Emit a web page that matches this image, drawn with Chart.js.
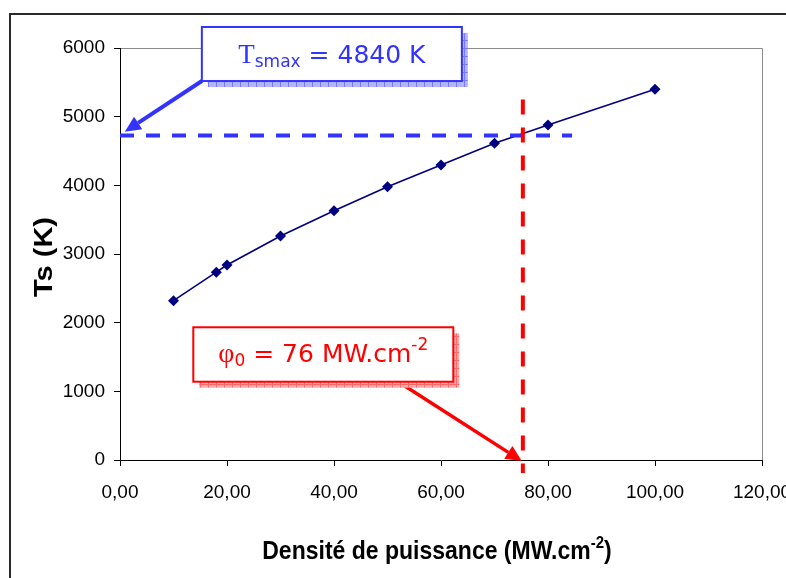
<!DOCTYPE html>
<html>
<head>
<meta charset="utf-8">
<script src="https://cdn.jsdelivr.net/npm/chart.js@4.4.0/dist/chart.umd.min.js"></script>
<style>
  html, body { margin: 0; padding: 0; background: #fff; }
  canvas { display: block; }
</style>
</head>
<body>
<canvas id="tsChart" width="786" height="578"></canvas>
<script>
// Données
const densite = [10, 18, 20, 30, 40, 50, 60, 70, 80, 100];
const temperature = [2320, 2735, 2840, 3262, 3630, 3980, 4295, 4612, 4879, 5398];
const xTickLabels = ['0,00', '20,00', '40,00', '60,00', '80,00', '100,00', '120,00'];
const yTickLabels = ['0', '1000', '2000', '3000', '4000', '5000', '6000'];

// Lignes de repère (Tsmax et phi0)
const tsmaxY = 4726;
const tsmaxXEnd = 84.5;
const phiX = 75.3;
const phiYTop = 5250;
const phiYBottom = -190;

// Motif hachuré pour les ombres des étiquettes
function shadowPattern(ctx, base, line) {
    const c = document.createElement('canvas');
    c.width = 8; c.height = 8;
    const g = c.getContext('2d');
    g.fillStyle = base; g.fillRect(0, 0, 8, 8);
    g.fillStyle = line; g.fillRect(0, 0, 8, 1); g.fillRect(0, 0, 1, 8);
    return ctx.createPattern(c, 'repeat');
}

function drawBox(ctx, x, y, w, h, color, base, line) {
    ctx.fillStyle = shadowPattern(ctx, base, line);
    ctx.fillRect(x + 6, y + 6, w, h);
    ctx.fillStyle = '#fff';
    ctx.fillRect(x, y, w, h);
    ctx.strokeStyle = color;
    ctx.lineWidth = 2;
    ctx.strokeRect(x, y, w, h);
}

function drawArrow(ctx, x1, y1, x2, y2, color, w, headLen, headW) {
    const ang = Math.atan2(y2 - y1, x2 - x1);
    const bx = x2 - headLen * Math.cos(ang), by = y2 - headLen * Math.sin(ang);
    ctx.strokeStyle = color; ctx.lineWidth = w;
    ctx.beginPath(); ctx.moveTo(x1, y1); ctx.lineTo(bx, by); ctx.stroke();
    ctx.fillStyle = color;
    ctx.beginPath();
    ctx.moveTo(x2, y2);
    ctx.lineTo(bx + headW / 2 * Math.sin(ang), by - headW / 2 * Math.cos(ang));
    ctx.lineTo(bx - headW / 2 * Math.sin(ang), by + headW / 2 * Math.cos(ang));
    ctx.closePath(); ctx.fill();
}

// Texte composé (indices / exposants), centré sur cx
function drawRich(ctx, pieces, cx, baseline, color) {
    let total = 0;
    pieces.forEach(p => { ctx.font = p.font; p.w = ctx.measureText(p.t).width; total += p.w; });
    let x = cx - total / 2;
    ctx.fillStyle = color;
    ctx.textAlign = 'left';
    ctx.textBaseline = 'alphabetic';
    pieces.forEach(p => { ctx.font = p.font; ctx.fillText(p.t, x, baseline + (p.dy || 0)); x += p.w; });
}

const decorPlugin = {
    id: 'decor',
    beforeDraw(chart) {
        const ctx = chart.ctx;
        const a = chart.chartArea;
        ctx.save();
        ctx.strokeStyle = '#2a2a2a';
        ctx.lineWidth = 2;
        ctx.strokeRect(10, 14, 800, 600);
        ctx.strokeStyle = '#8c8c8c';
        ctx.lineWidth = 1;
        ctx.beginPath();
        ctx.moveTo(a.left, a.top + 0.5);
        ctx.lineTo(a.right + 0.5, a.top + 0.5);
        ctx.lineTo(a.right + 0.5, a.bottom);
        ctx.stroke();
        ctx.restore();
    },
    afterDraw(chart) {
        const ctx = chart.ctx;
        const xs = chart.scales.x, ys = chart.scales.y;
        const px = v => xs.getPixelForValue(v);
        const py = v => ys.getPixelForValue(v);
        ctx.save();

        // Étiquette Tsmax
        const bx1 = px(15.3), bx2 = px(63.9), by1 = py(6306), by2 = py(5519);
        drawArrow(ctx, bx1, by2, px(0.9), py(4781), '#3333ff', 4, 16, 15);
        drawBox(ctx, bx1, by1, bx2 - bx1, by2 - by1, '#3333ff', '#b3b3ff', '#7a7aff');
        drawRich(ctx, [
            { t: 'T', font: '27px "Liberation Serif"' },
            { t: 'smax', font: '17px "DejaVu Sans"', dy: 4 },
            { t: ' = 4840 K', font: '25px "DejaVu Sans"' }
        ], (bx1 + bx2) / 2, by1 + 36, '#3333ff');

        // Étiquette phi0
        const rx1 = px(13.7), rx2 = px(62.3), ry1 = py(1933), ry2 = py(1140);
        drawArrow(ctx, px(52.0), ry2, px(75.1), py(-15), '#ff0000', 3.5, 16, 15);
        drawBox(ctx, rx1, ry1, rx2 - rx1, ry2 - ry1, '#ff0000', '#ffaaaa', '#ff6a6a');
        drawRich(ctx, [
            { t: 'φ', font: '28px "Liberation Serif"' },
            { t: '0', font: '17px "DejaVu Sans"', dy: 4 },
            { t: ' = 76 MW.cm', font: '25px "DejaVu Sans"' },
            { t: '-2', font: '17px "DejaVu Sans"', dy: -12 }
        ], (rx1 + rx2) / 2, ry1 + 35, '#ff0000');

        // Titre de l'axe Y
        ctx.font = 'bold 23px "Liberation Sans"';
        const yt = 'Ts (K)';
        const sx = 80 / ctx.measureText(yt).width;
        ctx.save();
        ctx.translate(52, 257);
        ctx.rotate(-Math.PI / 2);
        ctx.scale(sx, 1.1);
        ctx.fillStyle = '#000';
        ctx.textAlign = 'center';
        ctx.textBaseline = 'alphabetic';
        ctx.fillText(yt, 0, 0);
        ctx.restore();

        // Titre de l'axe X
        ctx.save();
        ctx.translate(0, 559);
        ctx.scale(1, 1.15);
        drawRich(ctx, [
            { t: 'Densité de puissance (MW.cm', font: 'bold 23px "Liberation Sans"' },
            { t: '-2', font: 'bold 15px "Liberation Sans"', dy: -10 },
            { t: ')', font: 'bold 23px "Liberation Sans"' }
        ], 437, 0, '#000');
        ctx.restore();

        ctx.restore();
    }
};

const tickFont = { family: '"Liberation Sans", Arial, sans-serif', size: 19 };

new Chart(document.getElementById('tsChart'), {
    type: 'scatter',
    data: {
        datasets: [
            {
                label: 'phi0',
                data: [{ x: phiX, y: phiYTop }, { x: phiX, y: phiYBottom }],
                showLine: true,
                borderColor: '#ff0000',
                borderWidth: 4,
                borderDash: [15, 13],
                pointRadius: 0,
                clip: false,
                order: 0
            },
            {
                label: 'Tsmax',
                data: [{ x: 0, y: tsmaxY }, { x: tsmaxXEnd, y: tsmaxY }],
                showLine: true,
                borderColor: '#3333ff',
                borderWidth: 4,
                borderDash: [14, 12],
                pointRadius: 0,
                clip: false,
                order: 0
            },
            {
                label: 'Ts',
                data: densite.map((x, i) => ({ x: x, y: temperature[i] })),
                showLine: true,
                borderColor: '#000080',
                backgroundColor: '#000080',
                borderWidth: 1.6,
                pointStyle: 'rectRot',
                pointRadius: 5.5,
                pointBorderWidth: 0,
                tension: 0,
                order: 1
            }
        ]
    },
    options: {
        responsive: false,
        animation: false,
        devicePixelRatio: 1,
        layout: { padding: { left: 0, top: 48, right: 24, bottom: 0 } },
        plugins: { legend: { display: false }, tooltip: { enabled: false } },
        scales: {
            x: {
                type: 'linear',
                min: 0,
                max: 120,
                ticks: {
                    stepSize: 20,
                    color: '#000',
                    font: tickFont,
                    padding: 15,
                    maxRotation: 0,
                    callback: (v, i) => xTickLabels[i]
                },
                grid: { display: true, drawOnChartArea: false, drawTicks: true, tickLength: 6, color: '#000', lineWidth: 1 },
                border: { display: true, color: '#000', width: 1 },
                afterFit: s => { s.height = 118; s.paddingLeft = 0; s.paddingRight = 0; }
            },
            y: {
                type: 'linear',
                min: 0,
                max: 6000,
                ticks: {
                    stepSize: 1000,
                    color: '#000',
                    font: tickFont,
                    padding: 9,
                    callback: (v, i) => yTickLabels[i]
                },
                grid: { display: true, drawOnChartArea: false, drawTicks: true, tickLength: 6, color: '#000', lineWidth: 1 },
                border: { display: true, color: '#000', width: 1 },
                afterFit: s => { s.width = 120; }
            }
        }
    },
    plugins: [decorPlugin]
});
</script>
</body>
</html>
